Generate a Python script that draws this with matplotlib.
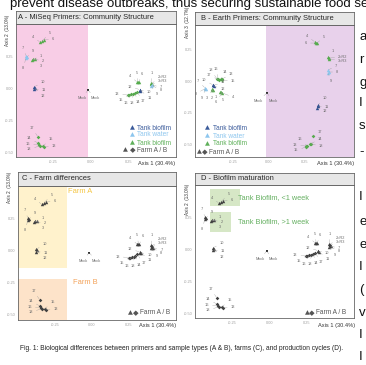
import matplotlib
matplotlib.use("Agg")
import matplotlib.pyplot as plt

W, H = 366, 365
plt.rcParams["font.family"] = ["Liberation Sans", "DejaVu Sans"]

# ---- samples -------------------------------------------------------------
sample_labels = ["1", "2", "3", "4", "5", "6", "7", "8", "9",
                 "10", "11", "12", "13", "14", "15", "16", "17", "18"]
earth_labels = ["1", "2=R2", "3=R3", "4", "5", "6", "7", "8", "9",
                "10", "11", "12", "13", "14", "15", "16", "17", "18"]
sample_group = ["green", "green", "green", "green", "green", "green",
                "water", "water", "water", "blue", "blue", "blue",
                "green", "green", "green", "green", "green", "green"]
sample_farm = ["A", "A", "A", "A", "A", "A", "A", "A", "A", "A", "A", "A",
               "B", "B", "B", "B", "B", "B"]
mock_labels = ["Mock", "Mock"]

# ordination used in A, C, D (Axis 1 / Axis 2)
miseq_ax1 = [-0.393, -0.387, -0.373, -0.340, -0.327, -0.313, -0.433, -0.433, -0.427,
             -0.380, -0.380, -0.373, -0.313, -0.353, -0.320, -0.347, -0.353, -0.340]
miseq_ax2 = [0.219, 0.227, 0.227, 0.359, 0.367, 0.375, 0.250, 0.234, 0.242,
             0.008, -0.008, 0.000, -0.461, -0.430, -0.453, -0.445, -0.383, -0.453]
earth_ax1 = [0.400, 0.403, 0.407, 0.307, 0.313, 0.320, 0.407, 0.410, 0.400,
             0.327, 0.330, 0.324, 0.247, 0.293, 0.253, 0.267, 0.307, 0.280]
earth_ax2 = [0.039, 0.035, 0.031, 0.047, 0.047, 0.047, 0.023, 0.020, 0.016,
             -0.016, -0.020, -0.012, -0.055, -0.039, -0.055, -0.047, -0.031, -0.047]
mock_ax1 = [-0.020, -0.020]
mock_ax2 = [-0.016, -0.016]

# ordination used in B (Axis 1 / Axis 3)
b_miseq_ax1 = [-0.396, -0.396, -0.392, -0.340, -0.333, -0.326, -0.444, -0.444, -0.440,
               -0.389, -0.389, -0.385, -0.326, -0.333, -0.326, -0.354, -0.347, -0.361]
b_miseq_ax3 = [-0.063, -0.067, -0.070, -0.087, -0.090, -0.094, -0.055, -0.060, -0.063,
               -0.031, -0.035, -0.039, 0.016, 0.016, 0.008, 0.016, 0.008, 0.016]
b_earth_ax1 = [0.410, 0.417, 0.417, 0.319, 0.333, 0.326, 0.410, 0.417, 0.410,
               0.340, 0.340, 0.333, 0.257, 0.285, 0.257, 0.264, 0.306, 0.292]
b_earth_ax3 = [0.189, 0.181, 0.173, 0.307, 0.299, 0.299, 0.087, 0.071, 0.063,
               -0.189, -0.197, -0.213, -0.512, -0.496, -0.520, -0.512, -0.433, -0.496]
b_mock_ax1 = [-0.014, -0.014]
b_mock_ax3 = [-0.094, -0.094]

legend_labels = ["Tank biofilm", "Tank water", "Tank biofilm", "Farm A / B"]
top_text = "prevent disease outbreaks, thus securing sustainable food se"
caption = ("Fig. 1: Biological differences between primers and sample types (A & B), "
           "farms (C), and production cycles (D).")
side_letters = ["a", "r", "g", "I", "s", "-", "I", "e", "e", "I", "(", "v", "I", "I"]

# ---- layout (pixel offsets of the little sample labels, dx right / dy up) ----
off_miseq = [(9, 4), (10, -2), (6, -7), (-7, 5), (8, 8), (9, 1), (-3, 8), (-3, -10), (6, 6),
             (9, 5), (10, -1), (8, -8), (10, 1), (-9, 5), (8, 7), (-11, 1), (-6, 9), (-11, -3)]
off_earth = [(1, 10), (6, 7), (6, 3), (-7, 6), (-1, 9), (3, 8), (9, -2), (8, -5), (6, -8),
             (9, -2), (9, -7), (-10, 3), (-11, 1), (3, -9), (-8, -5), (-5, -9), (6, -9), (-1, -9)]
off_mock = [(-6, -8), (7, -8)]
off_b_miseq = [(4, -8), (0, -8), (-6, -8), (13, -5), (2, -8), (-6, -9), (-7, 7), (-9, -5), (-4, -9),
               (-9, 5), (10, 3), (9, -3), (9, 5), (4, 7), (11, -1), (-2, 10), (-10, 5), (-6, 9)]
off_b_earth = [(5, 6), (9, 1), (9, -2), (-8, 6), (7, 6), (-10, 0), (8, 4), (8, 0), (3, -8),
               (7, 7), (9, -1), (8, -3), (-11, 1), (10, 5), (-10, -3), (-7, 7), (7, 4), (10, -2)]
off_b_mock = [(-9, -8), (6, -8)]

colors = {"green": "#55ab4c", "water": "#8cc7ee", "blue": "#2f4f8f"}
legend_colors = ["#3b5b9b", "#8dc6ee", "#5fb05a", "#555555"]
gray = "#404040"

fig = plt.figure(figsize=(W / 100, H / 100), dpi=100)


def fx(px):
    return px / W


def fy(py):
    return 1 - py / H


def add_panel(box, head, title, title_x, xlim, ylim, ylab, ylab_xy, xlab_xy):
    l, t, r, b = box
    ax = fig.add_axes([fx(l), fy(b), (r - l) / W, (b - t) / H])
    ax.set_xlim(xlim)
    ax.set_ylim(ylim)
    ax.set_xticks([-0.25, 0, 0.25])
    ax.set_xticklabels(["-0.25", "0.00", "0.25"])
    ax.set_yticks([0.25, 0, -0.25, -0.5])
    ax.set_yticklabels(["0.25", "0.00", "-0.25", "-0.50"])
    ax.tick_params(length=0, labelsize=2.8, labelcolor="#a0a0a0", pad=2)
    for s in ax.spines.values():
        s.set_color("#666666")
        s.set_linewidth(0.6)
    hl, ht, hr, hb = head
    hx = fig.add_axes([fx(hl), fy(hb), (hr - hl) / W, (hb - ht) / H])
    hx.set_facecolor("#e7e7e7")
    hx.set_xticks([])
    hx.set_yticks([])
    for s in hx.spines.values():
        s.set_color("#666666")
        s.set_linewidth(0.6)
    fig.text(fx(title_x), fy((ht + hb) / 2), title, fontsize=5.4, color="#262626",
             va="center", ha="left")
    fig.text(fx(ylab_xy[0]), fy(ylab_xy[1]), ylab, fontsize=3.3, color="#333333",
             rotation=90, va="top", ha="center")
    fig.text(fx(xlab_xy[0]), fy(xlab_xy[1]), "Axis 1 (30.4%)", fontsize=4.1,
             color="#333333", va="center", ha="right")
    return ax


def draw_set(ax, xs, ys, labels, offsets, colored):
    for i in range(len(xs)):
        col = colors[sample_group[i]] if colored else gray
        mk = "^" if sample_farm[i] == "A" else "D"
        sz = 6 if mk == "^" else 3.5
        ax.scatter(xs[i], ys[i], s=sz, marker=mk, color=col, lw=0, zorder=4)
        dx, dy = offsets[i]
        ha = "left" if "=" in labels[i] else "center"
        ax.annotate(labels[i], (xs[i], ys[i]), xytext=(dx * 0.72, dy * 0.72),
                    textcoords="offset points", fontsize=2.8, color="#6a6a6a",
                    ha=ha, va="center", zorder=5,
                    arrowprops=dict(arrowstyle="-", lw=0.25, color="#9a9a9a",
                                    shrinkA=0.5, shrinkB=0.5))


def draw_mock(ax, xs, ys, offsets):
    for i in range(len(xs)):
        ax.scatter(xs[i], ys[i], s=4, marker="s", color="#333333", lw=0, zorder=4)
        dx, dy = offsets[i]
        ax.annotate(mock_labels[i], (xs[i], ys[i]), xytext=(dx * 0.72, dy * 0.72),
                    textcoords="offset points", fontsize=2.8, color="#6a6a6a",
                    ha="center", va="center", zorder=5,
                    arrowprops=dict(arrowstyle="-", lw=0.25, color="#9a9a9a",
                                    shrinkA=0.5, shrinkB=0.5))


def type_legend(tri_x, text_x, ys, farm_x):
    for i in range(3):
        fig.text(fx(tri_x), fy(ys[i]), "\u25B2", fontsize=4.6, color=legend_colors[i],
                 ha="center", va="center", family="DejaVu Sans")
        fig.text(fx(text_x), fy(ys[i]), legend_labels[i], fontsize=4.7,
                 color=legend_colors[i], ha="left", va="center")
    farm_legend(farm_x[0], farm_x[1], farm_x[2], ys[3])


def farm_legend(tri_x, dia_x, text_x, y):
    fig.text(fx(tri_x), fy(y), "\u25B2", fontsize=4.6, color="#555555",
             ha="center", va="center", family="DejaVu Sans")
    fig.text(fx(dia_x), fy(y), "\u25C6", fontsize=5.2, color="#555555",
             ha="center", va="center", family="DejaVu Sans")
    fig.text(fx(text_x), fy(y), legend_labels[3], fontsize=4.7, color="#555555",
             ha="left", va="center")


lim_x = (-0.50, 0.567)
lim_y = (-0.539, 0.50)

# A
axA = add_panel((16, 24, 176, 157), (16, 11, 176, 24), "A - MiSeq Primers: Community Structure",
                18, lim_x, lim_y, "Axis 2  (13.0%)", (8, 15), (175, 163))
axA.axvspan(lim_x[0], -0.02, color="#f8cde6", lw=0, zorder=0)
draw_set(axA, miseq_ax1, miseq_ax2, sample_labels, off_miseq, True)
draw_set(axA, earth_ax1, earth_ax2, earth_labels, off_earth, True)
draw_mock(axA, mock_ax1, mock_ax2, off_mock)
type_legend(132, 137, [128, 135, 143, 150], (125, 133, 137))

# B
axB = add_panel((195, 25, 354, 157), (195, 12, 354, 25), "B - Earth Primers: Community Structure",
                201, (-0.514, 0.59), (-0.598, 0.441), "Axis 3  (12.7%)", (187, 7), (354, 163))
axB.axvspan(-0.02, 0.59, color="#e8d1eb", lw=0, zorder=0)
draw_set(axB, b_miseq_ax1, b_miseq_ax3, sample_labels, off_b_miseq, True)
draw_set(axB, b_earth_ax1, b_earth_ax3, earth_labels, off_b_earth, True)
draw_mock(axB, b_mock_ax1, b_mock_ax3, off_b_mock)
type_legend(207, 213, [128, 136, 144, 152], (199, 205, 209))

# C
axC = add_panel((18, 186, 176, 320), (18, 172, 176, 186), "C - Farm differences",
                22, lim_x, lim_y, "Axis 2  (13.0%)", (9, 172), (176, 326))
axC.fill_between([lim_x[0], -0.17], -0.133, lim_y[1], color="#fff2cc", lw=0, zorder=0)
axC.fill_between([lim_x[0], -0.17], lim_y[0], -0.219, color="#fde3c9", lw=0, zorder=0)
draw_set(axC, miseq_ax1, miseq_ax2, sample_labels, off_miseq, False)
draw_set(axC, earth_ax1, earth_ax2, earth_labels, off_earth, False)
draw_mock(axC, mock_ax1, mock_ax2, off_mock)
fig.text(fx(68), fy(192), "Farm A", fontsize=5.4, color="#f4c542", va="center")
fig.text(fx(73), fy(283), "Farm B", fontsize=5.4, color="#f3a259", va="center")
farm_legend(130, 136, 140, 313)

# D
axD = add_panel((195, 185, 354, 318), (195, 173, 354, 185), "D - Biofilm maturation",
                201, lim_x, lim_y, "Axis 2  (13.0%)", (188, 184), (355, 326))
axD.fill_between([-0.40, -0.20], 0.336, 0.469, color="#d6e7c6", lw=0, zorder=0)
axD.fill_between([-0.40, -0.26], 0.133, 0.289, color="#d6e7c6", lw=0, zorder=0)
draw_set(axD, miseq_ax1, miseq_ax2, sample_labels, off_miseq, False)
draw_set(axD, earth_ax1, earth_ax2, earth_labels, off_earth, False)
draw_mock(axD, mock_ax1, mock_ax2, off_mock)
fig.text(fx(238), fy(198), "Tank Biofilm, <1 week", fontsize=5.3, color="#66b062", va="center")
fig.text(fx(238), fy(222), "Tank Biofilm, >1 week", fontsize=5.3, color="#66b062", va="center")
farm_legend(307, 312, 316, 313)

# surrounding page text
fig.text(fx(10), fy(7), top_text, fontsize=9.5, color="#111111", va="baseline")
fig.text(fx(20), fy(348), caption, fontsize=4.8, color="#222222", va="center")
side_y = [37, 60, 83, 103, 126, 152, 197, 222, 245, 267, 290, 313, 335, 357]
for letter, yy in zip(side_letters, side_y):
    fig.text(fx(359), fy(yy), letter, fontsize=9.5, color="#111111", va="center")

fig.savefig("out.png", dpi=100)
